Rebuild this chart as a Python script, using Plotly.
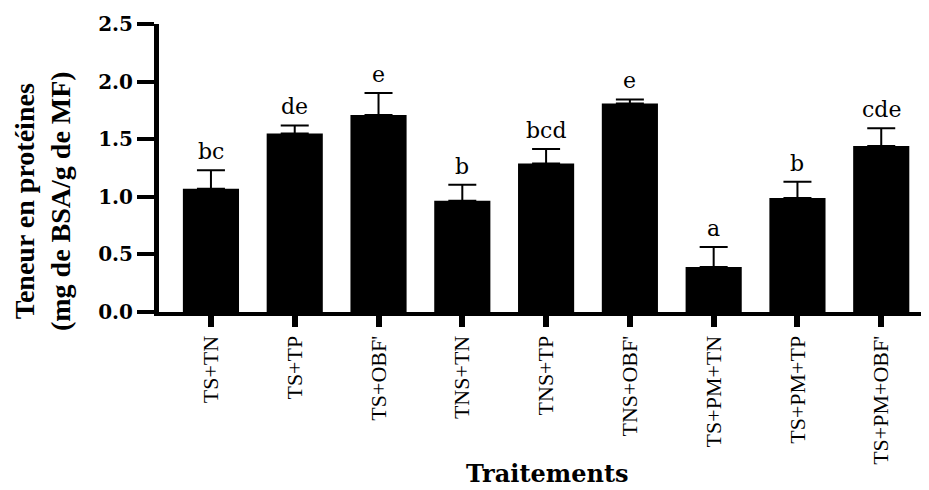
import plotly.graph_objects as go

categories = ["TS+TN", "TS+TP", "TS+OBF'", "TNS+TN", "TNS+TP", "TNS+OBF'",
              "TS+PM+TN", "TS+PM+TP", "TS+PM+OBF'"]
protein = [1.07, 1.55, 1.71, 0.965, 1.29, 1.81, 0.39, 0.99, 1.44]
error = [0.16, 0.07, 0.19, 0.14, 0.125, 0.035, 0.175, 0.14, 0.155]
letters = ["bc", "de", "e", "b", "bcd", "e", "a", "b", "cde"]
y_ticks = [0.0, 0.5, 1.0, 1.5, 2.0, 2.5]
y_tick_labels = ["0.0", "0.5", "1.0", "1.5", "2.0", "2.5"]

fig = go.Figure()
fig.add_trace(go.Bar(
    x=list(range(len(categories))),
    y=protein,
    marker=dict(color="black", line=dict(width=0)),
    error_y=dict(type="data", symmetric=False, array=error,
                 arrayminus=[0] * len(error),
                 color="black", thickness=2, width=14),
    showlegend=False,
))

for i, (v, e, lab) in enumerate(zip(protein, error, letters)):
    fig.add_annotation(x=i, y=v + e, text=lab, showarrow=False,
                       xref="x", yref="y", yanchor="bottom", yshift=4,
                       font=dict(family="DejaVu Serif", size=22, color="black"))

fig.add_annotation(
    text="Teneur en protéines<br>(mg de BSA/g de MF)",
    textangle=-90, showarrow=False, xref="paper", yref="paper",
    x=-0.152, y=0.385, xanchor="center", yanchor="middle",
    font=dict(family="Liberation Serif", size=28, color="black", weight="bold"),
)

fig.add_annotation(
    text="Traitements", showarrow=False, xref="paper", yref="paper",
    x=0.505, y=-0.562, xanchor="center", yanchor="middle",
    font=dict(family="DejaVu Serif", size=24, color="black", weight="bold"),
)

# page body keeps an 8 px default margin, so the figure is 8 px smaller
fig.update_layout(
    width=921, height=482,
    margin=dict(l=151, r=0, t=16, b=178),
    paper_bgcolor="white", plot_bgcolor="white",
    bargap=0.33,
    xaxis=dict(
        range=[-0.62, 8.57], automargin=False,
        tickmode="array", tickvals=list(range(len(categories))),
        ticktext=categories, tickangle=-90,
        showline=True, linecolor="black", linewidth=4,
        ticks="outside", ticklen=11, tickwidth=6, tickcolor="black",
        showgrid=False, zeroline=False,
        tickfont=dict(family="Liberation Serif", size=22, color="black"),
    ),
    yaxis=dict(
        range=[0, 2.5], automargin=False,
        tickmode="array", tickvals=y_ticks, ticktext=y_tick_labels,
        showline=True, linecolor="black", linewidth=5,
        ticks="outside", ticklen=17, tickwidth=4, tickcolor="black",
        showgrid=False, zeroline=False,
        tickfont=dict(family="DejaVu Serif", size=20, color="black", weight="bold"),
    ),
)

fig.write_html("out.html")
